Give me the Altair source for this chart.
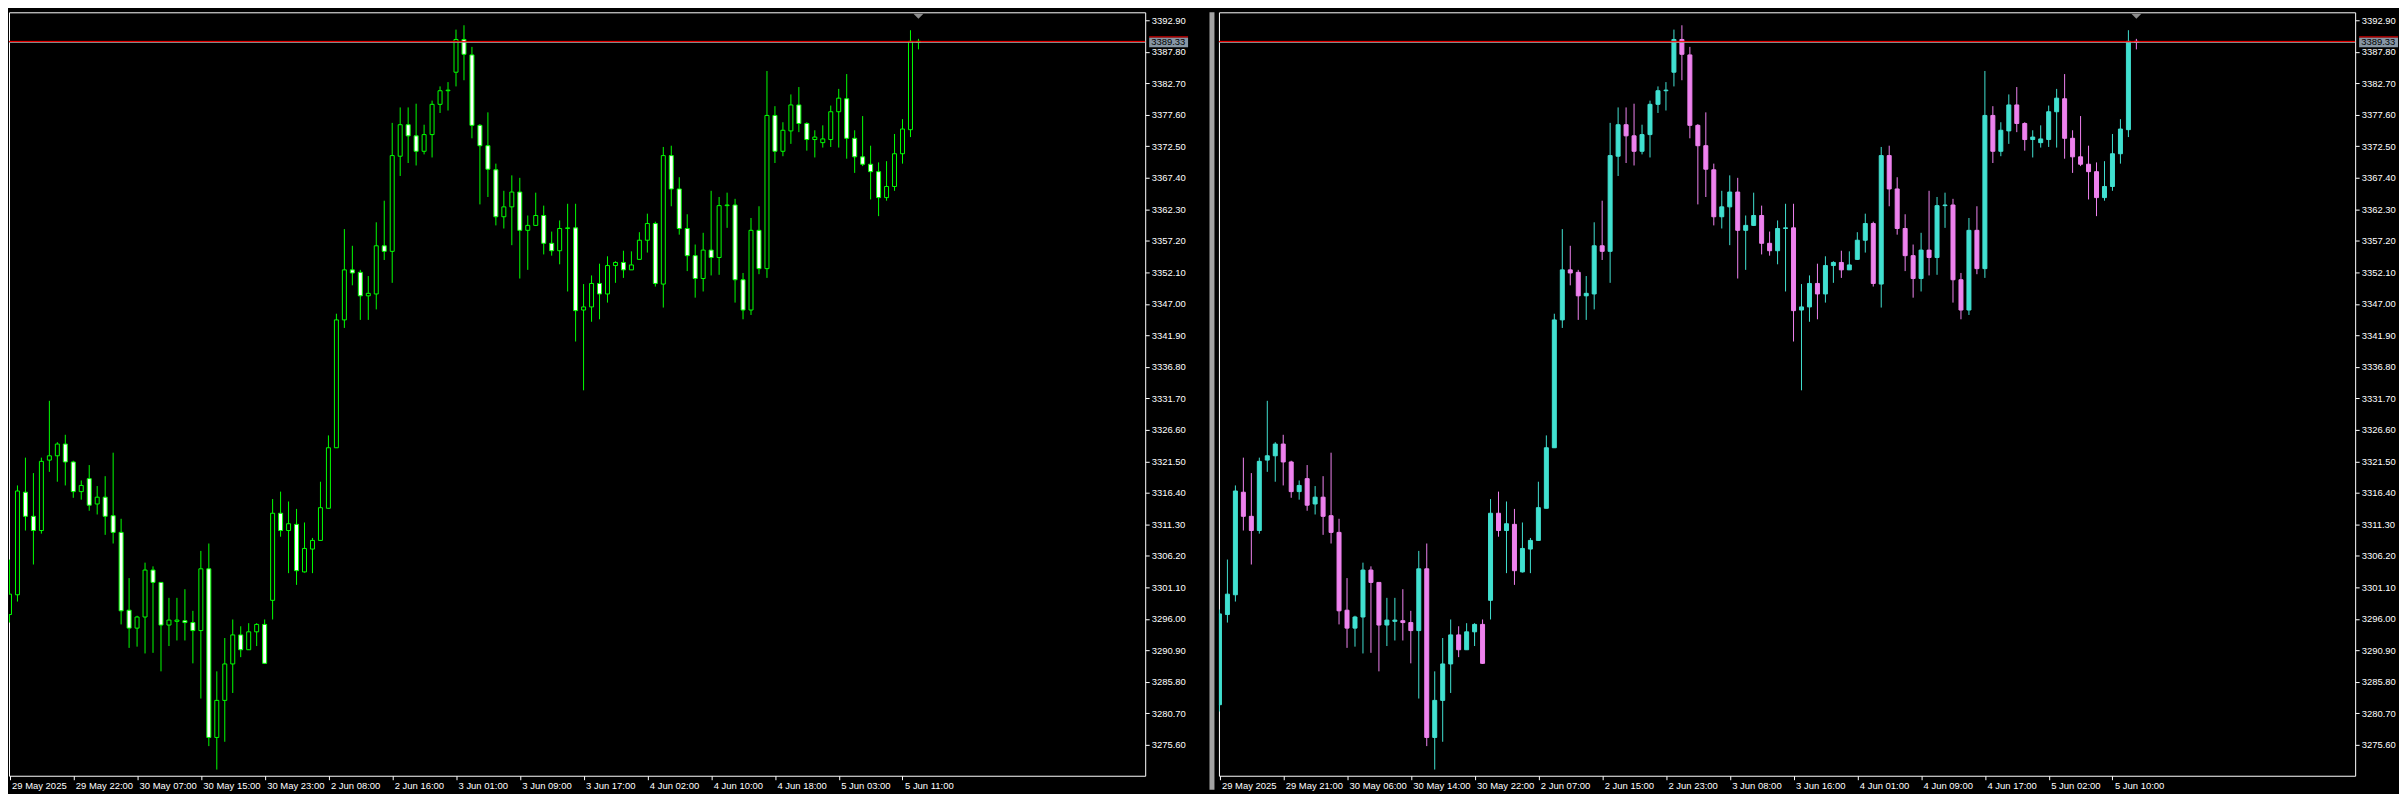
import altair as alt
import pandas as pd

# ---------------- data (H1 candles) ----------------
OPEN = [3282.1, 3296.7, 3299.9, 3316.5, 3312.6, 3310.3, 3321.7, 3322.4, 3324.3, 3321.4,
        3316.6, 3318.7, 3314.6, 3315.7, 3312.7, 3310.0, 3297.4, 3294.5, 3296.3, 3303.9,
        3301.9, 3295.0, 3295.6, 3295.7, 3295.4, 3294.1, 3304.1, 3276.8, 3282.8, 3288.7,
        3293.4, 3291.0, 3293.9, 3295.1, 3299.0, 3313.1, 3310.3, 3311.3, 3303.6, 3307.3,
        3308.7, 3313.9, 3323.7, 3344.4, 3352.5, 3352.1, 3348.3, 3348.6, 3356.4, 3355.5,
        3370.9, 3376.0, 3374.2, 3371.7, 3374.4, 3379.3, 3381.5, 3384.5, 3389.8, 3387.3,
        3375.9, 3372.6, 3368.7, 3361.1, 3362.7, 3365.1, 3358.9, 3359.7, 3361.3, 3356.8,
        3355.6, 3359.2, 3359.3, 3346.0, 3346.5, 3350.3, 3348.6, 3353.2, 3353.7, 3352.5,
        3354.2, 3357.3, 3360.0, 3350.2, 3371.0, 3365.6, 3359.2, 3354.8, 3351.1, 3355.7,
        3354.5, 3362.9, 3363.0, 3350.9, 3346.0, 3358.9, 3352.7, 3377.5, 3371.7, 3375.0,
        3379.2, 3376.2, 3373.6, 3373.1, 3373.6, 3378.1, 3380.2, 3373.8, 3370.8, 3369.6,
        3368.4, 3364.2, 3366.0, 3371.3, 3375.2, 3389.5]
HIGH = [3297.5, 3305.6, 3317.6, 3322.1, 3319.6, 3322.1, 3331.3, 3324.6, 3325.8, 3321.6,
        3318.4, 3320.9, 3317.5, 3319.1, 3322.9, 3312.2, 3302.6, 3296.5, 3305.1, 3304.5,
        3301.9, 3299.4, 3299.4, 3300.8, 3297.3, 3307.0, 3308.2, 3287.5, 3292.9, 3295.9,
        3294.8, 3295.3, 3295.3, 3295.9, 3315.4, 3316.6, 3315.0, 3313.8, 3311.6, 3309.1,
        3318.2, 3325.7, 3345.4, 3359.1, 3356.4, 3352.5, 3351.5, 3360.2, 3363.7, 3376.3,
        3378.8, 3378.8, 3379.4, 3376.0, 3379.9, 3382.2, 3382.9, 3391.4, 3392.1, 3388.6,
        3376.1, 3378.0, 3369.7, 3365.3, 3367.8, 3367.4, 3361.3, 3365.0, 3362.9, 3358.7,
        3360.5, 3363.2, 3363.2, 3350.2, 3351.6, 3353.5, 3354.7, 3353.9, 3355.6, 3355.5,
        3358.6, 3361.6, 3360.3, 3372.4, 3372.6, 3367.5, 3361.5, 3356.6, 3358.5, 3365.3,
        3364.3, 3365.0, 3364.0, 3352.0, 3360.9, 3362.8, 3384.7, 3379.0, 3376.4, 3380.9,
        3382.1, 3376.4, 3375.1, 3375.9, 3379.1, 3381.8, 3384.2, 3375.1, 3377.4, 3372.6,
        3369.9, 3370.1, 3374.5, 3376.9, 3391.3, 3389.9]
LOW = [3281.0, 3295.4, 3298.8, 3310.3, 3304.8, 3309.8, 3319.8, 3318.2, 3317.6, 3315.6,
       3315.3, 3313.5, 3312.9, 3309.6, 3308.2, 3295.1, 3291.3, 3291.5, 3290.4, 3290.5,
       3287.5, 3291.6, 3292.5, 3292.5, 3288.8, 3283.1, 3275.4, 3271.6, 3276.1, 3284.0,
       3289.8, 3291.0, 3291.6, 3288.7, 3295.9, 3309.3, 3303.4, 3301.5, 3303.5, 3303.4,
       3308.7, 3313.9, 3323.7, 3343.1, 3350.0, 3344.4, 3344.4, 3346.1, 3354.1, 3350.4,
       3367.7, 3369.8, 3369.4, 3371.2, 3370.7, 3377.9, 3378.3, 3382.2, 3383.2, 3373.8,
       3363.1, 3364.3, 3359.7, 3359.2, 3356.5, 3351.1, 3352.5, 3359.6, 3355.0, 3354.8,
       3353.4, 3349.0, 3340.9, 3333.0, 3344.1, 3344.5, 3347.2, 3350.4, 3351.2, 3352.5,
       3354.1, 3355.3, 3349.8, 3346.4, 3362.8, 3358.2, 3352.3, 3348.0, 3349.0, 3351.6,
       3351.7, 3359.3, 3347.2, 3344.5, 3345.2, 3351.8, 3351.2, 3369.8, 3370.9, 3372.9,
       3374.8, 3371.8, 3370.7, 3372.3, 3372.4, 3372.3, 3370.5, 3368.2, 3369.3, 3363.9,
       3361.2, 3363.7, 3365.3, 3369.7, 3374.0, 3388.2]
CLOSE = [3296.8, 3300.0, 3316.7, 3312.6, 3310.3, 3321.5, 3322.4, 3324.3, 3321.4, 3316.6,
         3317.6, 3314.4, 3315.7, 3312.6, 3310.0, 3297.3, 3294.5, 3296.3, 3303.9, 3301.9,
         3295.0, 3295.8, 3295.8, 3295.4, 3294.1, 3304.1, 3276.8, 3282.8, 3288.7, 3293.4,
         3291.0, 3293.9, 3295.1, 3288.8, 3313.1, 3310.3, 3311.4, 3303.8, 3307.4, 3308.7,
         3314.0, 3323.7, 3344.4, 3352.5, 3352.0, 3348.3, 3348.7, 3356.4, 3355.5, 3371.0,
         3376.0, 3374.2, 3371.7, 3374.4, 3379.3, 3381.5, 3381.6, 3389.8, 3387.4, 3375.9,
         3372.6, 3368.8, 3361.1, 3362.7, 3365.1, 3358.9, 3359.7, 3361.3, 3356.8, 3355.6,
         3359.2, 3359.3, 3345.9, 3346.5, 3350.3, 3348.6, 3353.2, 3353.7, 3352.5, 3353.3,
         3357.3, 3360.0, 3350.3, 3371.0, 3365.6, 3359.2, 3354.8, 3351.1, 3355.7, 3354.5,
         3362.9, 3363.0, 3350.9, 3346.0, 3358.9, 3352.7, 3377.5, 3371.7, 3375.1, 3379.2,
         3376.2, 3373.6, 3374.0, 3373.7, 3378.1, 3380.3, 3373.8, 3370.8, 3369.6, 3368.4,
         3364.2, 3366.0, 3371.3, 3375.3, 3389.5, 3389.33]

LEFT_LABELS = ["29 May 2025", "29 May 22:00", "30 May 07:00", "30 May 15:00", "30 May 23:00",
               "2 Jun 08:00", "2 Jun 16:00", "3 Jun 01:00", "3 Jun 09:00", "3 Jun 17:00",
               "4 Jun 02:00", "4 Jun 10:00", "4 Jun 18:00", "5 Jun 03:00", "5 Jun 11:00"]
RIGHT_LABELS = ["29 May 2025", "29 May 21:00", "30 May 06:00", "30 May 14:00", "30 May 22:00",
                "2 Jun 07:00", "2 Jun 15:00", "2 Jun 23:00", "3 Jun 08:00", "3 Jun 16:00",
                "4 Jun 01:00", "4 Jun 09:00", "4 Jun 17:00", "5 Jun 02:00", "5 Jun 10:00"]
PRICE_TICKS = [3275.60, 3280.70, 3285.80, 3290.90, 3296.00, 3301.10, 3306.20, 3311.30,
               3316.40, 3321.50, 3326.60, 3331.70, 3336.80, 3341.90, 3347.00, 3352.10,
               3357.20, 3362.30, 3367.40, 3372.50, 3377.60, 3382.70, 3387.80, 3392.90]
BID = 3389.33
ASK = 3389.49

# ---------------- layout ----------------
W = 1140
H = 766
BAR_PX = 8
X_OFF = 0.5
Y_DOMAIN = [3270.6, 3394.2]
FONT = "Liberation Sans"

df = pd.DataFrame({"c": list(range(len(OPEN))), "open": OPEN, "high": HIGH,
                   "low": LOW, "close": CLOSE})
df["bull"] = df["close"] > df["open"]

TRI = "M-1,-0.5L1,-0.5L0,0.5Z"


def panel(shift, labels, body_fill, body_line, wick_col, separator=False):
    d = df.assign(pos=df["c"] - shift)
    d = d[d["pos"] >= -1]
    last_pos = int(d["pos"].max())
    one = pd.DataFrame({"bid": [BID], "ask": [ASK], "last": [last_pos],
                        "tag": [f"{BID:.2f}"]})

    xscale = alt.Scale(domain=[-X_OFF / BAR_PX, (W - X_OFF) / BAR_PX], nice=False,
                       zero=False, padding=0)
    label_js = "[" + ",".join(f"'{s}'" for s in labels) + "]"
    xaxis = alt.Axis(values=[8 * k for k in range(len(labels))],
                     labelExpr=f"{label_js}[round(datum.value / 8)]",
                     title=None, orient="bottom", tickSize=4, labelAlign="left",
                     labelBaseline="top", labelPadding=1, labelOffset=2,
                     labelFlush=False, labelOverlap=False, labelBound=False,
                     grid=False, domain=False)
    yscale = alt.Scale(domain=Y_DOMAIN, nice=False, zero=False, padding=0)
    yaxis = alt.Axis(values=PRICE_TICKS, format=".2f", title=None, orient="right",
                     tickSize=4, labelPadding=2, labelFlush=False, labelOverlap=False,
                     labelBound=False, grid=False, domain=False)

    x = alt.X("pos:Q", scale=xscale, axis=xaxis)
    base = alt.Chart(d)

    wick = base.mark_rule(strokeWidth=1, clip=True).encode(
        x=x,
        y=alt.Y("low:Q", scale=yscale, axis=yaxis),
        y2="high:Q",
        color=alt.condition("datum.bull", alt.value(wick_col[0]), alt.value(wick_col[1])),
    )
    body = base.mark_bar(size=4, strokeWidth=1, clip=True).encode(
        x=x,
        y=alt.Y("open:Q", scale=yscale, axis=yaxis),
        y2="close:Q",
        fill=alt.condition("datum.bull", alt.value(body_fill[0]), alt.value(body_fill[1])),
        stroke=alt.condition("datum.bull", alt.value(body_line[0]), alt.value(body_line[1])),
    )
    oc = alt.Chart(one)
    bid_line = oc.mark_rule(color="#9a9a9a", strokeWidth=1).encode(
        y=alt.Y("bid:Q", scale=yscale, axis=yaxis))
    ask_line = oc.mark_rule(color="#ff0000", strokeWidth=1).encode(
        y=alt.Y("ask:Q", scale=yscale, axis=yaxis))
    tag = oc.mark_rect(color="#8796a5", yOffset=-5, y2Offset=5).encode(
        x=alt.value(W + 4), x2=alt.value(W + 43),
        y=alt.Y("bid:Q", scale=yscale, axis=yaxis), y2="bid:Q")
    tag_top = oc.mark_rule(color="#ff0000", strokeWidth=1, yOffset=-5.5).encode(
        x=alt.value(W + 4), x2=alt.value(W + 43),
        y=alt.Y("bid:Q", scale=yscale, axis=yaxis))
    tag_text = oc.mark_text(align="left", baseline="middle", color="black",
                            font=FONT, fontSize=9.5, dx=0).encode(
        x=alt.value(W + 6), y=alt.Y("bid:Q", scale=yscale, axis=yaxis), text="tag:N")
    tri = oc.mark_point(shape=TRI, filled=True, size=100, color="#8c8c8c",
                        opacity=1, strokeWidth=0).encode(
        x=alt.X("last:Q", scale=xscale, axis=xaxis), y=alt.value(4))

    layers = [wick, body, bid_line, ask_line, tag, tag_top, tag_text, tri]
    if separator:
        sep = oc.mark_rule(color="#a2a2a2", strokeWidth=5).encode(
            x=alt.value(-7), y=alt.value(0), y2=alt.value(H + 14))
        layers.append(sep)
    return alt.layer(*layers).properties(width=W, height=H)


left = panel(1, LEFT_LABELS, ("#000000", "#ffffff"), ("#00ff00", "#00ff00"),
             ("#00ff00", "#00ff00"))
right = panel(0, RIGHT_LABELS, ("#40e0d0", "#ee82ee"), ("#40e0d0", "#ee82ee"),
              ("#40e0d0", "#ee82ee"), separator=True)

chart = alt.hconcat(left, right, spacing=20, padding=0).configure(
    background="#000000"
).configure_view(
    stroke="#ffffff", strokeWidth=1, fill="#000000"
).configure_axis(
    labelColor="#ffffff", tickColor="#ffffff", labelFont=FONT, labelFontSize=9.5,
    domain=False, grid=False
)

chart.save("out.html", embed_options={"renderer": "svg", "actions": False})
